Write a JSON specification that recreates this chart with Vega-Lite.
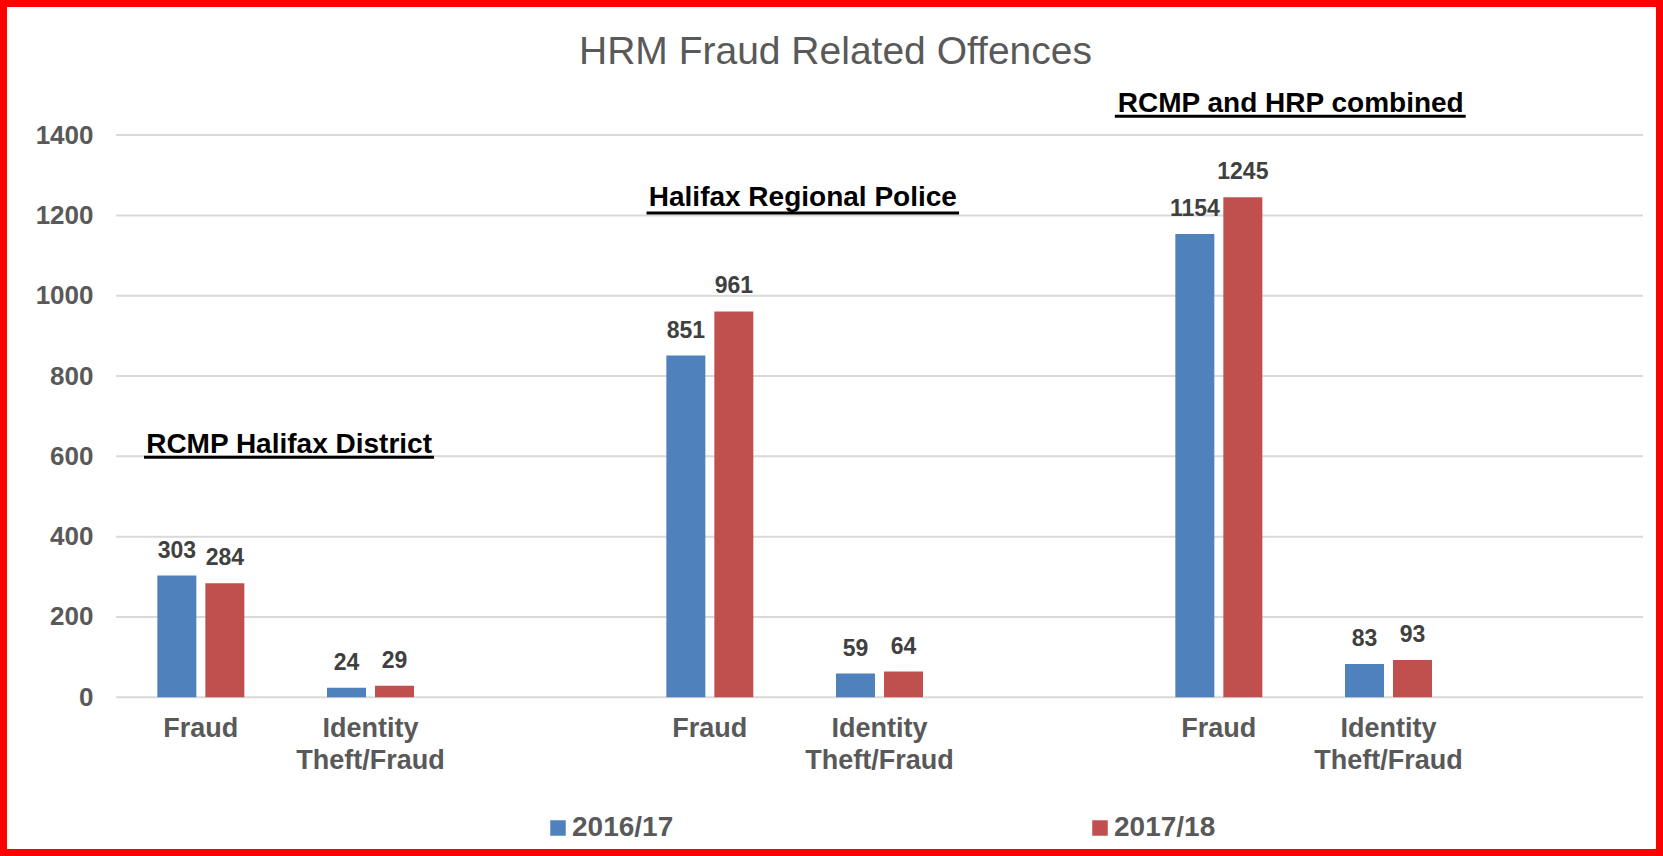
{
  "$schema": "https://vega.github.io/schema/vega-lite/v6.json",
  "width": 1663,
  "height": 856,
  "autosize": {"type": "none"},
  "padding": 0,
  "background": "white",
  "title": {"text": "HRM Fraud Related Offences", "fontSize": 39, "font": "Liberation Sans", "fontWeight": "normal", "color": "#595959", "anchor": "middle", "offset": -72, "dx": 4},
  "config": {"view": {"stroke": "#ff0000", "strokeWidth": 14}, "font": "Liberation Sans"},
  "datasets": {
    "offences": [
      {"cat": "RCMP Fraud", "year": "2016/17", "val": 303},
      {"cat": "RCMP Fraud", "year": "2017/18", "val": 284},
      {"cat": "RCMP Identity Theft/Fraud", "year": "2016/17", "val": 24},
      {"cat": "RCMP Identity Theft/Fraud", "year": "2017/18", "val": 29},
      {"cat": "HRP Fraud", "year": "2016/17", "val": 851},
      {"cat": "HRP Fraud", "year": "2017/18", "val": 961},
      {"cat": "HRP Identity Theft/Fraud", "year": "2016/17", "val": 59},
      {"cat": "HRP Identity Theft/Fraud", "year": "2017/18", "val": 64},
      {"cat": "Combined Fraud", "year": "2016/17", "val": 1154},
      {"cat": "Combined Fraud", "year": "2017/18", "val": 1245},
      {"cat": "Combined Identity Theft/Fraud", "year": "2016/17", "val": 83},
      {"cat": "Combined Identity Theft/Fraud", "year": "2017/18", "val": 93}
    ],
    "grid": [{"v": 0}, {"v": 200}, {"v": 400}, {"v": 600}, {"v": 800}, {"v": 1000}, {"v": 1200}, {"v": 1400}],
    "one": [{}]
  },
  "layer": [
    {
      "data": {"name": "grid"},
      "mark": {"type": "rule", "color": "#d9d9d9", "strokeWidth": 2},
      "encoding": {
        "x": {"datum": "RCMP Fraud", "type": "nominal", "bandPosition": 0},
        "x2": {"datum": "gap3", "bandPosition": 1},
        "y": {"field": "v", "type": "quantitative", "title": null}
      }
    },
    {
      "data": {"name": "offences"},
      "mark": {"type": "bar"},
      "encoding": {
        "x": {
          "field": "cat", "type": "nominal", "title": null, "sort": null,
          "scale": {"domain": ["RCMP Fraud", "RCMP Identity Theft/Fraud", "gap1", "HRP Fraud", "HRP Identity Theft/Fraud", "gap2", "Combined Fraud", "Combined Identity Theft/Fraud", "gap3"], "paddingInner": 0, "paddingOuter": 0.4008, "align": 0.853},
          "axis": {"orient": "bottom", "offset": -158.7, "domain": false, "ticks": false, "grid": false, "labelAngle": 0, "labelAlign": "center", "labelPadding": 18, "labelBaseline": "top", "labelFontSize": 27, "labelFontWeight": "bold", "labelColor": "#595959", "labelLineHeight": 32, "labelFont": "Liberation Sans",
            "labelExpr": "test(/Identity/, datum.value) ? ['Identity', 'Theft/Fraud'] : (test(/Fraud/, datum.value) ? 'Fraud' : '')"}
        },
        "xOffset": {"field": "year", "type": "nominal", "scale": {"paddingInner": 0.1875, "paddingOuter": 0.861}},
        "y": {
          "field": "val", "type": "quantitative", "title": null,
          "scale": {"domain": [-395.2, 1736.4], "nice": false, "zero": false},
          "axis": {"orient": "left", "offset": -101, "values": [0, 200, 400, 600, 800, 1000, 1200, 1400], "format": "d", "domain": false, "ticks": false, "grid": false, "labelPadding": 8, "labelFontSize": 26, "labelFontWeight": "bold", "labelColor": "#595959", "labelFont": "Liberation Sans", "labelBaseline": "middle"}
        },
        "color": {
          "field": "year", "type": "nominal",
          "scale": {"domain": ["2016/17", "2017/18"], "range": ["#4f81bd", "#c0504d"]},
          "legend": {"orient": "none", "legendX": 544, "legendY": 814, "direction": "horizontal", "title": null, "symbolType": "square", "symbolSize": 240, "symbolStrokeWidth": 0, "labelFont": "Liberation Sans", "labelFontSize": 28, "labelFontWeight": "bold", "labelColor": "#595959", "columnPadding": 412, "labelOffset": 0, "padding": 0}
        }
      }
    },
    {
      "data": {"name": "offences"},
      "mark": {"type": "text", "baseline": "alphabetic", "dy": -18, "fontSize": 23, "fontWeight": "bold", "color": "#404040"},
      "encoding": {
        "x": {"field": "cat", "type": "nominal", "title": null},
        "xOffset": {"field": "year", "type": "nominal"},
        "y": {"field": "val", "type": "quantitative", "title": null},
        "text": {"field": "val", "type": "quantitative"}
      }
    },
    {
      "data": {"name": "one"},
      "mark": {"type": "text", "baseline": "alphabetic", "align": "center", "fontSize": 28, "fontWeight": "bold", "color": "black"},
      "encoding": {
        "x": {"datum": "RCMP Identity Theft/Fraud", "type": "nominal", "bandPosition": 0.02},
        "y": {"datum": 609, "type": "quantitative"},
        "text": {"value": "RCMP Halifax District"}
      }
    },
    {
      "data": {"name": "one"},
      "mark": {"type": "rule", "color": "black", "strokeWidth": 3},
      "encoding": {
        "x": {"datum": "RCMP Fraud", "type": "nominal", "bandPosition": 0.165},
        "x2": {"datum": "RCMP Identity Theft/Fraud", "bandPosition": 0.874},
        "y": {"datum": 598, "type": "quantitative"}
      }
    },
    {
      "data": {"name": "one"},
      "mark": {"type": "text", "baseline": "alphabetic", "align": "center", "fontSize": 28, "fontWeight": "bold", "color": "black"},
      "encoding": {
        "x": {"datum": "HRP Identity Theft/Fraud", "type": "nominal", "bandPosition": 0.048},
        "y": {"datum": 1223.4, "type": "quantitative"},
        "text": {"value": "Halifax Regional Police"}
      }
    },
    {
      "data": {"name": "one"},
      "mark": {"type": "rule", "color": "black", "strokeWidth": 3},
      "encoding": {
        "x": {"datum": "HRP Fraud", "type": "nominal", "bandPosition": 0.127},
        "x2": {"datum": "HRP Identity Theft/Fraud", "bandPosition": 0.969},
        "y": {"datum": 1206, "type": "quantitative"}
      }
    },
    {
      "data": {"name": "one"},
      "mark": {"type": "text", "baseline": "alphabetic", "align": "center", "fontSize": 28, "fontWeight": "bold", "color": "black"},
      "encoding": {
        "x": {"datum": "Combined Fraud", "type": "nominal", "bandPosition": 0.924},
        "y": {"datum": 1458, "type": "quantitative"},
        "text": {"value": "RCMP and HRP combined"}
      }
    },
    {
      "data": {"name": "one"},
      "mark": {"type": "rule", "color": "black", "strokeWidth": 3},
      "encoding": {
        "x": {"datum": "gap2", "type": "nominal", "bandPosition": 0.887},
        "x2": {"datum": "Combined Identity Theft/Fraud", "bandPosition": 0.955},
        "y": {"datum": 1446.7, "type": "quantitative"}
      }
    }
  ]
}
